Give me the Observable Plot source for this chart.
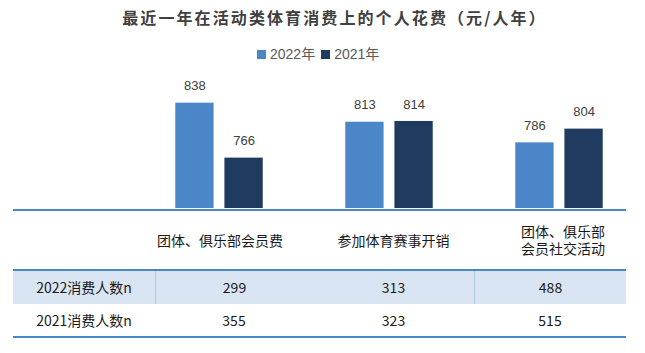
<!DOCTYPE html>
<html>
<head>
<meta charset="utf-8">
<script src="https://cdn.jsdelivr.net/npm/d3@7"></script>
<script src="https://cdn.jsdelivr.net/npm/@observablehq/plot@0.6"></script>
<style>
  html, body { margin: 0; padding: 0; background: #fff; }
  #root { position: relative; width: 645px; height: 353px; overflow: hidden; font-family: "Liberation Sans", "Noto Sans CJK SC", sans-serif; }
  .abs { position: absolute; }
  #title { top: 7px; left: 12px; width: 645px; text-align: center; font: bold 16px/20px "Noto Sans CJK SC", sans-serif; letter-spacing: 2.1px; color: #404040; }
  #legend { top: 45px; left: 257px; display: flex; align-items: center; font: 14px/18px "Liberation Sans", "Noto Sans CJK SC", sans-serif; color: #595959; }
  #legend .sw { width: 9px; height: 9px; margin-right: 4px; }
  #legend .item { display: flex; align-items: center; margin-right: 6px; }
  #chart { top: 64px; left: 0; }
  .hline { left: 13px; width: 613px; height: 2px; background: #4a86c8; }
  .row { left: 13px; width: 613px; display: flex; font: 14px/17px "Liberation Sans Narrow", "Noto Sans CJK SC", sans-serif; color: #1a1a1a; }
  .row > div { display: flex; align-items: center; justify-content: center; box-sizing: border-box; text-align: center; }
</style>
</head>
<body>
<div id="root">
  <div id="title" class="abs">最近一年在活动类体育消费上的个人花费（元/人年）</div>
  <div id="legend" class="abs"></div>
  <div id="chart" class="abs"></div>
  <div id="table"></div>
</div>
<script>
// ---- data ----
const categories = ["团体、俱乐部会员费", "参加体育赛事开销", "团体、俱乐部会员社交活动"];
const years = ["2022年", "2021年"];
const spend2022 = [838, 813, 786];
const spend2021 = [766, 814, 804];
const rowLabels = ["2022消费人数n", "2021消费人数n"];
const count2022 = [299, 313, 488];
const count2021 = [355, 323, 515];
const colors = ["#4a86c8", "#1f3b60"];

// ---- legend ----
const legend = document.getElementById("legend");
years.forEach((y, i) => {
  const it = document.createElement("div");
  it.className = "item";
  it.innerHTML = `<div class="sw" style="background:${colors[i]}"></div><span>${y}</span>`;
  legend.appendChild(it);
});

// ---- bars ----
const data = [];
categories.forEach((c, i) => {
  data.push({cat: c, year: years[0], value: spend2022[i]});
  data.push({cat: c, year: years[1], value: spend2021[i]});
});

const chart = Plot.plot({
  width: 645,
  height: 148,
  marginLeft: 133,
  marginRight: 0,
  marginTop: 29.5,
  marginBottom: 4,
  fx: {domain: categories, padding: 0, axis: null},
  x: {domain: years, paddingInner: 0.22, paddingOuter: 0.84, round: false, axis: null},
  y: {domain: [700, 850], clamp: true, axis: null},
  color: {domain: years, range: colors},
  style: {fontFamily: "Liberation Sans, sans-serif", fontSize: "13px", background: "transparent"},
  marks: [
    Plot.barY(data, {fx: "cat", x: "year", y: "value", fill: "year"}),
    Plot.text(data, {fx: "cat", x: "year", y: "value", text: d => String(d.value), dy: -17, fill: "#404040", fontSize: 13})
  ]
});
document.getElementById("chart").appendChild(chart);

// ---- table ----
const tbl = document.getElementById("table");
const colW = [142, 158, 161, 152];
function line(top) {
  const d = document.createElement("div");
  d.className = "abs hline";
  d.style.top = top + "px";
  tbl.appendChild(d);
}
function row(top, height, cells, opts = {}) {
  const r = document.createElement("div");
  r.className = "abs row";
  r.style.top = top + "px";
  r.style.height = height + "px";
  if (opts.bg) r.style.background = opts.bg;
  cells.forEach((txt, i) => {
    const c = document.createElement("div");
    c.style.width = colW[i] + "px";
    if (opts.pads && opts.pads[i]) c.style.padding = opts.pads[i];
    if (opts.vlines && opts.vlines.includes(i)) c.style.borderLeft = "1px solid #b4c8e6";
    const s = document.createElement("span");
    s.textContent = txt;
    if (opts.maxw && opts.maxw[i]) { s.style.width = opts.maxw[i] + "px"; s.style.display = "inline-block"; }
    c.appendChild(s);
    r.appendChild(c);
  });
  tbl.appendChild(r);
}
line(209);
row(211, 58, ["", ...categories], {pads: [null, "0 28px 0 0", null, "0 0 0 26px"], maxw: [null, null, null, 86]});
line(269);
row(271, 33, [rowLabels[0], ...count2022.map(String)], {bg: "#dae5f3", vlines: [1, 3]});
row(304, 32, [rowLabels[1], ...count2021.map(String)]);
line(336);
</script>
</body>
</html>
